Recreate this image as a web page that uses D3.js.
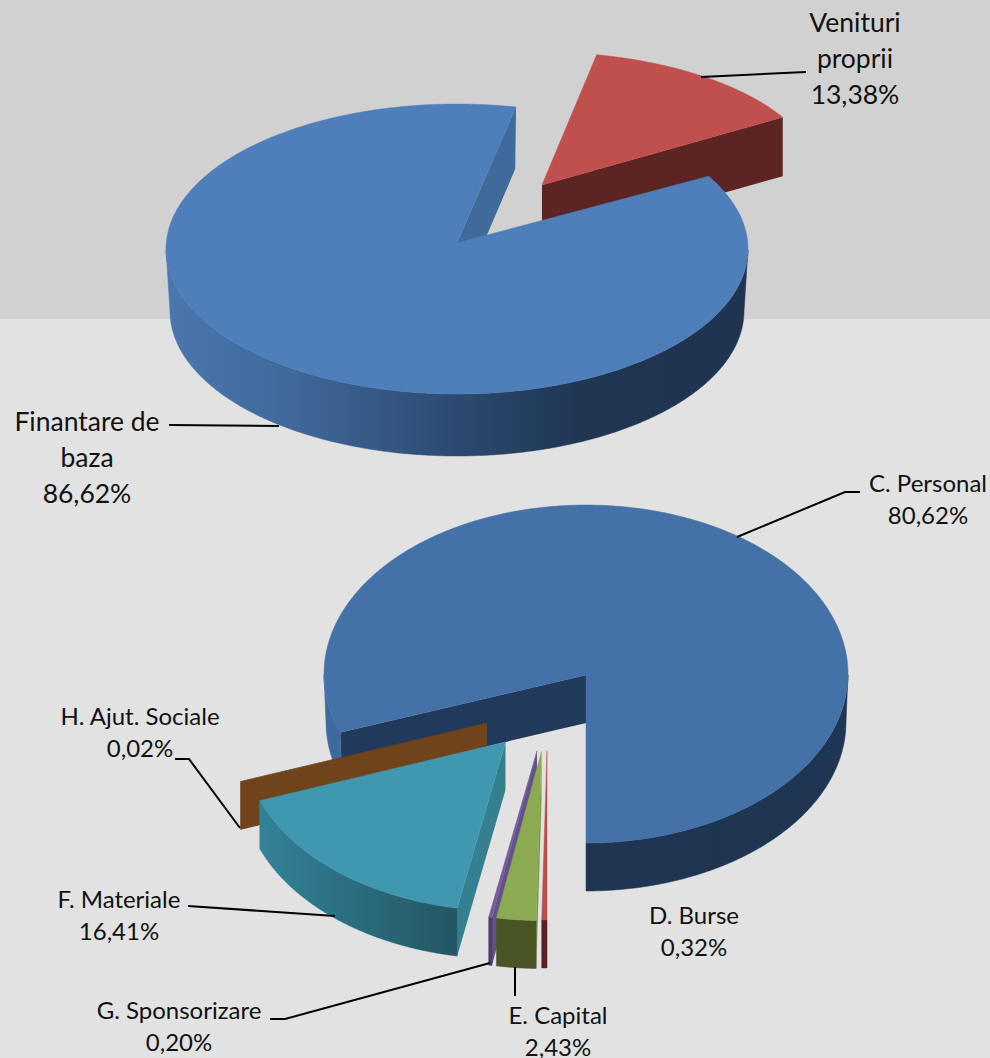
<!DOCTYPE html>
<html><head><meta charset="utf-8">
<style>html,body{margin:0;padding:0;background:#e2e2e2;overflow:hidden}svg{display:block}text{font-family:Lato,"Open Sans",sans-serif;fill:#111}</style>
<script src="https://cdn.jsdelivr.net/npm/d3@7"></script>
</head><body><svg id="c" width="990" height="1058"></svg>
<script>
// ---- data ----
const fundingNames  = ["Venituri proprii", "Finantare de baza"];
const fundingValues = [13.38, 86.62];
const spendNames    = ["D. Burse", "E. Capital", "G. Sponsorizare", "F. Materiale", "H. Ajut. Sociale", "C. Personal"];
const spendValues   = [0.32, 2.43, 0.20, 16.41, 0.02, 80.62];

// ---- layout of the two exploded 3D pies ----
// apex = tip of slice, rim = centre of its outer ellipse (perspective moves them apart)
// lowRx = horizontal radius of the lower rim, slightly smaller than the upper one
const fundingLayout = [
  {apex:[542,185], rim:[539.7,183], rx:281, ry:131, lowRx:281, depth:59, top:"#bf504d", cut:"#5c2524", wall:"#5c2524"},
  {apex:[457,243], rim:[457,249], rx:291, ry:145, lowRx:287, depth:62, top:"#4f7fba", cut:"#3f6a9a", wall:"topBlueWall"}
];
const spendLayout = [
  {apex:[547,751], rim:[547,751], rx:262, ry:169, lowRx:262, depth:48, top:"#b94f4b", cut:"#a84844", wall:"#5a2022"},
  {apex:[541.5,751.5], rim:[541.5,751.5], rx:262, ry:169, lowRx:262, depth:48, top:"#8baa52", cut:"#789645", wall:"#4a5526"},
  {apex:[537,751], rim:[537,751], rx:262, ry:169, lowRx:262, depth:48, top:"#775a97", cut:"#64508a", wall:"#4e3b63"},
  {apex:[505.5,742], rim:[505.5,742], rx:262, ry:169, lowRx:262, depth:48, top:"#4098b0", cut:"#35808f", wall:"tealWall"},
  {apex:[487,723], rim:[486.5,723], rx:262, ry:169, lowRx:262, depth:48, top:"#6f431c", cut:"#6f431c", wall:"#6f431c"},
  {apex:[586,675], rim:[586,674], rx:262, ry:169, lowRx:260, depth:48, top:"#4472a8", cut:"#21395a", wall:"botBlueWall"}
];
const fundingOrder = [0,1];            // paint order, back to front
const spendOrder   = [5,4,3,2,1,0];

const labels = [
  {lines:["Venituri","proprii","13,38%"], x:855, ys:[23,59,95],    size:26.5},
  {lines:["Finantare de","baza","86,62%"], x:87, ys:[422,458,494], size:26.5},
  {lines:["C. Personal","80,62%"], x:928, ys:[484,516],   size:24},
  {lines:["D. Burse","0,32%"], x:694, ys:[916,948],       size:24},
  {lines:["H. Ajut. Sociale","0,02%"], x:140, ys:[717,749], size:24},
  {lines:["F. Materiale","16,41%"], x:119, ys:[900,932],  size:24},
  {lines:["G. Sponsorizare","0,20%"], x:179, ys:[1011,1043], size:24},
  {lines:["E. Capital","2,43%"], x:558, ys:[1016,1048],   size:24}
];
const leaders = [
  [[701,77],[806,72]],
  [[169,425],[279,426]],
  [[737,537],[845,492],[860,492]],
  [[175,759],[189,759],[240,828]],
  [[188,906],[335,916]],
  [[270,1019],[285,1019],[490,963]],
  [[515,967],[515,996]]
];

const wallGradients = [
  {id:"topBlueWall", x1:166, x2:748, stops:[[0,"#4a77ae"],[.22,"#40689a"],[.5,"#2c4a70"],[.72,"#1f3552"],[1,"#1f3451"]]},
  {id:"botBlueWall", x1:324, x2:848, stops:[[0,"#3f6a9f"],[.2,"#3a6292"],[.5,"#1f3551"],[1,"#1e3653"]]},
  {id:"tealWall",    x1:259, x2:457, stops:[[0,"#348399"],[.5,"#2b6b7e"],[1,"#245663"]]}
];

// ---- drawing ----
const svg = d3.select("#c");
svg.append("rect").attr("width",990).attr("height",1058).attr("fill","#e2e2e2");
svg.append("rect").attr("width",990).attr("height",319).attr("fill","#d1d1d1");

const defs = svg.append("defs");
wallGradients.forEach(g => {
  const lg = defs.append("linearGradient").attr("id",g.id).attr("gradientUnits","userSpaceOnUse")
    .attr("x1",g.x1).attr("x2",g.x2).attr("y1",0).attr("y2",0);
  g.stops.forEach(s => lg.append("stop").attr("offset",s[0]).attr("stop-color",s[1]));
});
const paint = c => c.startsWith("#") ? c : `url(#${c})`;
const line = d3.line();
const STEP = Math.PI/360;

function drawPie(names, values, layout, order, startAngle){
  const arcs = d3.pie().sort(null).startAngle(startAngle).endAngle(startAngle+2*Math.PI)(values);
  order.forEach(i => {
    const a = arcs[i], L = layout[i];
    const sx = d3.scaleLinear().domain([-1,1]).range([L.rim[0]-L.rx, L.rim[0]+L.rx]);
    const sy = d3.scaleLinear().domain([-1,1]).range([L.rim[1]-L.ry, L.rim[1]+L.ry]);
    const lx = d3.scaleLinear().domain([-1,1]).range([L.rim[0]-L.lowRx, L.rim[0]+L.lowRx]);
    const pt  = t => [sx(Math.sin(t)), sy(-Math.cos(t))];
    const low = t => [lx(Math.sin(t)), sy(-Math.cos(t))+L.depth];
    const apexLow = [L.apex[0], L.apex[1]+L.depth];
    const angles = d3.range(a.startAngle, a.endAngle, STEP).concat([a.endAngle]);
    const g = svg.append("g").attr("data-name",names[i]);

    // cut faces
    const cut = t => g.append("path").attr("d", line([L.apex,pt(t),low(t),apexLow])+"Z").attr("fill",L.cut);
    if (-Math.sin(a.startAngle) > 0.001) cut(a.startAngle);
    if ( Math.sin(a.endAngle)   > 0.001) cut(a.endAngle);

    // outer wall: contiguous runs of the rim that face the viewer
    const runs = [];
    let run = null;
    angles.forEach(t => {
      if (Math.cos(t) < 0){ if(!run){ run=[]; runs.push(run);} run.push(t); }
      else run = null;
    });
    runs.filter(r => r.length > 1).forEach(r => {
      const poly = r.map(pt).concat(r.map(low).reverse());
      g.append("path").attr("d", line(poly)+"Z").attr("fill",paint(L.wall)).attr("stroke",paint(L.wall)).attr("stroke-width",.5);
    });
    // top face
    g.append("path").attr("d", line([L.apex].concat(angles.map(pt)))+"Z").attr("fill",L.top)
      .attr("stroke",L.top).attr("stroke-width",.5);
  });
}
drawPie(fundingNames, fundingValues, fundingLayout, fundingOrder, 11.7*Math.PI/180);
drawPie(spendNames, spendValues, spendLayout, spendOrder, Math.PI);

svg.append("g").selectAll("path").data(leaders).join("path")
  .attr("d", d => line(d)).attr("fill","none").attr("stroke","#000").attr("stroke-width",2);

const tg = svg.append("g");
labels.forEach(l => l.lines.forEach((t,k) => {
  tg.append("text").attr("x",l.x).attr("y",l.ys[k]).attr("dy","0.35em").attr("text-anchor","middle")
    .attr("font-size",l.size).text(t);
}));
</script></body></html>
